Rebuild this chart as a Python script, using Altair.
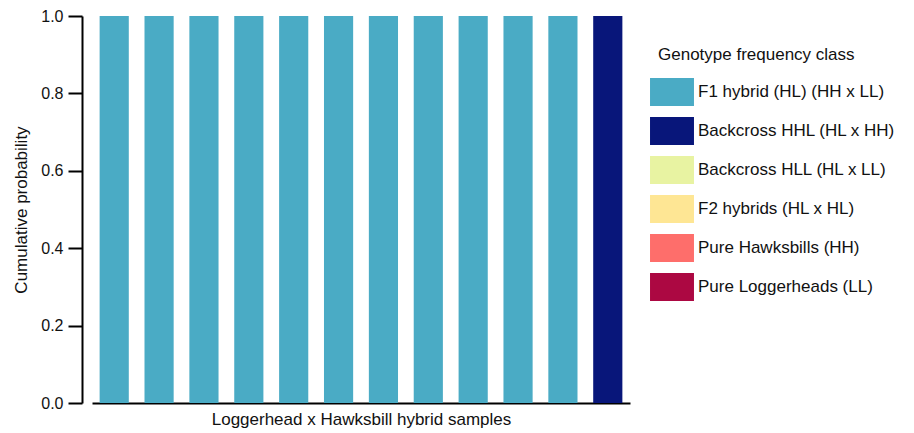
import altair as alt
import pandas as pd

samples = [f"S{i}" for i in range(1, 13)]
classes = [
    "F1 hybrid (HL) (HH x LL)",
    "Backcross HHL (HL x HH)",
    "Backcross HLL (HL x LL)",
    "F2 hybrids (HL x HL)",
    "Pure Hawksbills (HH)",
    "Pure Loggerheads (LL)",
]
colors = ["#4aabc5", "#08167a", "#e8f3a2", "#fee694", "#fe6e6b", "#ac0842"]
# probability of each class per sample (rows = samples, cols = classes)
probs = [
    [1, 0, 0, 0, 0, 0],
    [1, 0, 0, 0, 0, 0],
    [1, 0, 0, 0, 0, 0],
    [1, 0, 0, 0, 0, 0],
    [1, 0, 0, 0, 0, 0],
    [1, 0, 0, 0, 0, 0],
    [1, 0, 0, 0, 0, 0],
    [1, 0, 0, 0, 0, 0],
    [1, 0, 0, 0, 0, 0],
    [1, 0, 0, 0, 0, 0],
    [1, 0, 0, 0, 0, 0],
    [0, 1, 0, 0, 0, 0],
]

rows = []
for s, p in zip(samples, probs):
    for ci, (c, v) in enumerate(zip(classes, p)):
        rows.append({"sample": s, "cls": c, "order": ci, "prob": v})
df = pd.DataFrame(rows)

FONT = "Liberation Sans"

chart = alt.Chart(df).mark_bar(stroke=None).encode(
    x=alt.X("sample:N", sort=samples,
            scale=alt.Scale(paddingInner=0.35, paddingOuter=0.17),
            axis=alt.Axis(title="Loggerhead x Hawksbill hybrid samples", labels=False, ticks=False,
                          domainColor="black", domainWidth=2, titleFontSize=17,
                          titleFont=FONT, titleFontWeight="normal", titleColor="#111",
                          titlePadding=8)),
    y=alt.Y("prob:Q", stack="zero", scale=alt.Scale(domain=[0, 1], nice=False),
            axis=alt.Axis(title="Cumulative probability", values=[0, 0.2, 0.4, 0.6, 0.8, 1.0],
                          format=".1f", grid=False, offset=10, domainColor="black", domainWidth=2,
                          tickColor="black", tickWidth=2, tickSize=14, labelFontSize=16,
                          labelFont=FONT, labelColor="#111", labelPadding=5,
                          titleFontSize=17, titleFont=FONT, titleFontWeight="normal",
                          titleColor="#111", titlePadding=10)),
    color=alt.Color("cls:N", scale=alt.Scale(domain=classes, range=colors),
                    legend=alt.Legend(title="Genotype frequency class", orient="none",
                                      legendX=566, legendY=31,
                                      symbolType="M-1.57,-1L1.57,-1L1.57,1L-1.57,1Z",
                                      symbolSize=784, symbolStrokeWidth=0,
                                      labelFontSize=17, labelFont=FONT, labelColor="#111",
                                      titleFontSize=17, titleFont=FONT, titleFontWeight="normal",
                                      titleColor="#111", labelOffset=12, rowPadding=11,
                                      titlePadding=14, labelLimit=300, titleLimit=400)),
    order=alt.Order("order:Q"),
).properties(
    width=538, height=387,
    autosize=alt.AutoSizeParams(type="none"),
    padding={"left": 84, "top": 8, "right": 276, "bottom": 30},
).configure_view(stroke=None)

chart.save("out.html", embed_options={"renderer": "svg", "actions": False})
